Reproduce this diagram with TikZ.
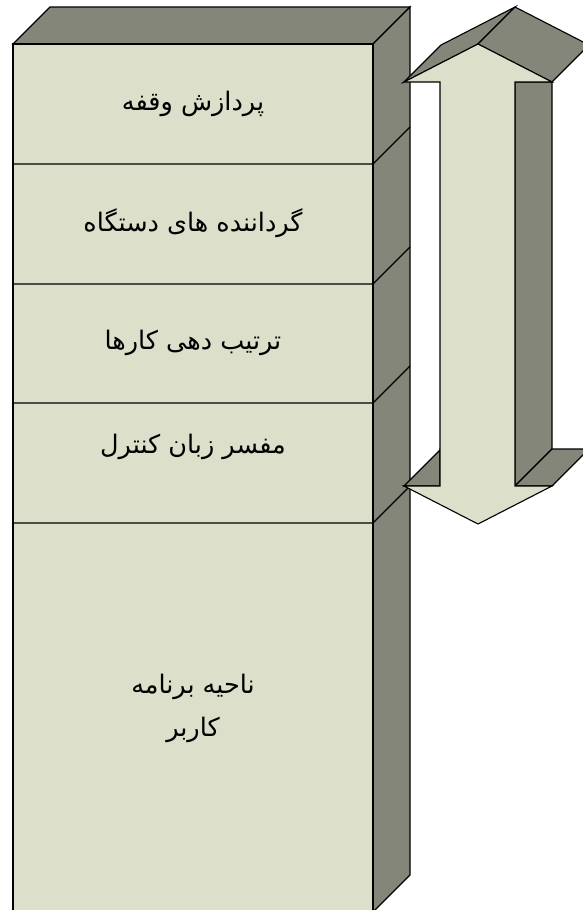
\documentclass[tikz,border=0pt]{standalone}
\usepackage{fontspec}
\newfontfamily\arabicfont[Script=Arabic]{DejaVu Sans}
\TeXXeTstate=1
\definecolor{faceL}{RGB}{220,224,203}
\definecolor{faceD}{RGB}{132,134,122}
\begin{document}
\begin{tikzpicture}[x=1pt,y=-1pt,
  edge/.style={draw=black,line width=1.1pt,line join=miter},
  front/.style={edge,fill=faceL},
  back/.style={edge,fill=faceD},
  lbl/.style={font=\arabicfont\fontsize{25.5}{43}\selectfont,text=black,align=center}]
\useasboundingbox (0,0) rectangle (583,910);
\clip (0,0) rectangle (583,910);
% stack
\path[back] (13,44) -- (50,7) -- (410,7) -- (373,44) -- cycle;
\path[back] (373,44) -- (410,7) -- (410,875) -- (373,912) -- cycle;
\path[front] (13,44) rectangle (373,920);
\foreach \y in {164,284,403,523}{
  \draw[edge] (13,\y) -- (373,\y) -- (410,\y-37);
}
% texts
\node[lbl] (t1) at (193,104) {\beginR پردازش وقفه\endR};
\node[lbl] (t2) at (193,223) {\beginR گرداننده های دستگاه\endR};
\node[lbl] (t3) at (193,343) {\beginR ترتیب دهی کارها\endR};
\node[lbl] (t4) at (193,447) {\beginR مفسر زبان کنترل\endR};
\node[lbl] (t5) at (193,708) {\beginR ناحیه برنامه\endR\\\beginR کاربر\endR};
% double arrow
\path[back] (515,82) -- (552,82) -- (552,449) -- (515,486) -- cycle;
\path[back] (404,486) -- (441,449) -- (440,449) -- (440,486) -- cycle;
\path[back] (515,486) -- (552,486) -- (589,449) -- (552,449) -- cycle;
\path[back] (404,82) -- (478,44) -- (515,7) -- (441,45) -- cycle;
\path[back] (478,44) -- (552,82) -- (589,45) -- (515,7) -- cycle;
\path[front] (404,82) -- (478,44) -- (552,82) -- (515,82) -- (515,486)
  -- (552,486) -- (478,524) -- (404,486) -- (440,486) -- (440,82) -- cycle;
\end{tikzpicture}
\end{document}
